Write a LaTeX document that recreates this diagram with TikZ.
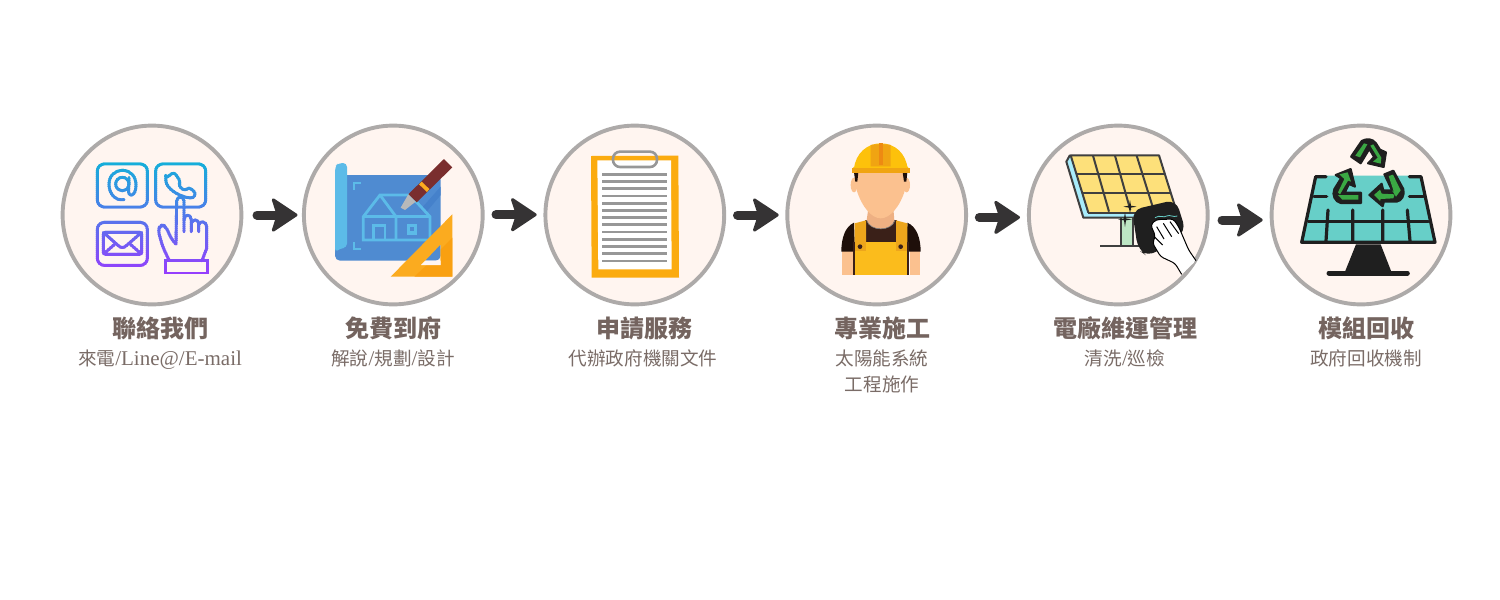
\documentclass[tikz,border=0pt]{standalone}
\usepackage{fontspec}
\usetikzlibrary{arrows.meta}
\setmainfont{Liberation Serif}
\newfontfamily\cjk{Noto Sans CJK TC}
\definecolor{ringc}{HTML}{ADAAA9}
\definecolor{discc}{HTML}{FFF5F0}
\definecolor{titlec}{HTML}{74645F}
\definecolor{subc}{HTML}{7A6C67}
\definecolor{arrowc}{HTML}{353334}
\definecolor{icontop}{HTML}{12B0D9}
\definecolor{iconbot}{HTML}{9C38FF}
\definecolor{bpblue}{HTML}{4F8BD1}
\definecolor{bplight}{HTML}{5CBBE8}
\definecolor{bpdark}{HTML}{4581CB}
\definecolor{orangec}{HTML}{FBAB1F}
\definecolor{orangedk}{HTML}{F9A011}
\definecolor{penred}{HTML}{7A2E2E}
\definecolor{boardc}{HTML}{FBAB0F}
\definecolor{linegray}{HTML}{979797}
\definecolor{skin}{HTML}{FBC18F}
\definecolor{skindk}{HTML}{EEB083}
\definecolor{helmet}{HTML}{FDC10B}
\definecolor{helmetdk}{HTML}{F0A412}
\definecolor{helmetor}{HTML}{EE8A12}
\definecolor{bib}{HTML}{FBBC1C}
\definecolor{bibdk}{HTML}{EDA61C}
\definecolor{shirt}{HTML}{1E0F0A}
\definecolor{shirtb}{HTML}{3A2018}
\definecolor{celly}{HTML}{FDE07A}
\definecolor{cellb}{HTML}{A8ECFB}
\definecolor{postg}{HTML}{BDE6C4}
\definecolor{ink}{HTML}{3F3F3F}
\definecolor{teal}{HTML}{67CFC8}
\definecolor{darkc}{HTML}{1F1F1F}
\definecolor{greenc}{HTML}{3AA843}
\tikzset{
  disc/.style={circle,draw=ringc,fill=discc,line width=3.9pt,minimum size=178.8pt,inner sep=0pt},
  titletext/.style={anchor=base,text=titlec,font=\cjk\bfseries\fontsize{24}{26}\selectfont,inner sep=0pt},
  subtext/.style={anchor=base,text=subc,font=\cjk\fontsize{18.6}{20}\selectfont,inner sep=0pt},
  flow/.style={draw=arrowc,line width=9pt,line cap=round,-{Stealth[length=28pt,width=37pt,inset=6pt,round,line width=3pt,fill=arrowc]}},
  zoomed/.style 2 args={shift={(#1,#2)},x=0.33333pt,y=-0.33333pt},
}
\newcommand{\serif}[1]{{\rmfamily\fontsize{21}{20}\selectfont #1}}
\newcommand{\contacticon}{%
  \begin{scope}[zoomed={50}{115},line width=2.9pt,line join=round,line cap=round]
    \draw[rounded corners=7pt] (142,147) rectangle (292,276);
    \draw[rounded corners=7pt] (317,147) rectangle (467,276);
    \draw[rounded corners=7pt] (142,322) rectangle (292,451);
    \draw (217,207) circle[radius=20];
    \draw (222,254) .. controls (195,258) and (177,235) .. (177,208) .. controls (177,182) and (195,166) .. (218,166)
      .. controls (242,166) and (258,185) .. (258,210) .. controls (258,228) and (252,240) .. (244,240)
      .. controls (235,240) and (235,230) .. (236,220) -- (237,188);
    \draw[rounded corners=3pt] (347,190) -- (372,171) -- (392,200) -- (385,212) -- (405,228) -- (416,216) -- (438,234) -- (430,250)
      .. controls (385,245) and (350,220) .. cycle;
    \draw[rounded corners=2pt] (160,352) rectangle (275,418);
    \draw (160,352) -- (205,392) .. controls (212,399) and (222,399) .. (229,392) -- (275,352);
    \draw (162,416) -- (196,386) (273,416) -- (239,386);
    \draw[rounded corners=4pt] (357,435) -- (338,395) -- (324,345) -- (332,330) -- (346,332) -- (366,375) -- (378,387);
    \draw (378,387) -- (380,258) .. controls (380,243) and (402,243) .. (402,258) -- (402,350);
    \draw (402,315) .. controls (402,296) and (424,296) .. (424,315) -- (424,350);
    \draw (424,325) .. controls (426,312) and (446,312) .. (446,325) -- (446,350);
    \draw (446,330) .. controls (448,316) and (470,318) .. (470,335) -- (470,400) -- (456,437);
    \draw[line cap=butt,line join=miter] (347,437) rectangle (472,474);
  \end{scope}}
\begin{document}
\begin{tikzpicture}[x=1pt,y=-1pt]
\useasboundingbox (0,0) rectangle (1500,600);
\fill[white] (0,0) rectangle (1500,600);
% discs
\node[disc] (c1) at (152,215) {};
\node[disc] (c2) at (393.3,215) {};
\node[disc] (c3) at (634.8,215) {};
\node[disc] (c4) at (876.7,215) {};
\node[disc] (c5) at (1118.3,215) {};
\node[disc] (c6) at (1361,215) {};
% arrows
\coordinate (a1s) at (257,215);   \coordinate (a1e) at (297.5,215);
\coordinate (a2s) at (496,214.7); \coordinate (a2e) at (536.7,214.7);
\coordinate (a3s) at (737.5,215); \coordinate (a3e) at (778.7,215);
\coordinate (a4s) at (979.3,217.4); \coordinate (a4e) at (1020,217.4);
\coordinate (a5s) at (1222,220);  \coordinate (a5e) at (1262.7,220);
\draw[flow] (a1s) -- (a1e);
\draw[flow] (a2s) -- (a2e);
\draw[flow] (a3s) -- (a3e);
\draw[flow] (a4s) -- (a4e);
\draw[flow] (a5s) -- (a5e);
% icon 1: gradient via strips
\foreach \s in {0,...,59}{
  \pgfmathsetmacro{\p}{100-\s*100/59}
  \pgfmathsetmacro{\yy}{160+2*\s}
  \begin{scope}
    \clip (80,\yy) rectangle (220,\yy+2.4);
    \colorlet{stripc}{icontop!\p!iconbot}
    \begin{scope}[draw=stripc]
      \contacticon
    \end{scope}
  \end{scope}
}
% icon 2: blueprint
\begin{scope}[zoomed={295}{115}]
  \fill[bpblue,rounded corners=5pt] (125,180) -- (437,180) -- (437,437) -- (120,437) -- (120,300) -- cycle;
  \fill[bplight,rounded corners=4pt] (120,400) -- (120,155) -- (130,144) -- (156,144) -- (156,398) -- (135,400) -- (120,412) -- cycle;
  \fill[bpdark] (375,285) -- (437,215) -- (437,240) -- (395,290) -- cycle;
  \begin{scope}[draw=bplight,line width=2.8pt,line join=miter]
    \draw (197,204) -- (177,204) -- (177,225);
    \draw (177,382) -- (177,402) -- (197,402);
    \draw (205,305) -- (255,240) -- (345,240) -- (405,305) -- (405,375) -- (205,375) -- cycle;
    \draw (205,305) -- (405,305);
    \draw (255,240) -- (303,305) -- (303,375);
    \draw (235,375) -- (235,332) -- (270,332) -- (270,375);
    \draw[line width=3.4pt] (340,332) rectangle (362,354);
  \end{scope}
  \fill[penred] (447,132) -- (472,157) -- (365,262) -- (340,238) -- cycle;
  \fill[orangec] (380,200) -- (403,222) -- (396,231) -- (372,208) -- cycle;
  \fill[gray!55] (340,238) -- (362,260) -- (330,285) -- (317,278) -- cycle;
  \fill[orangec,even odd rule] (472,298) -- (472,485) -- (287,485) -- cycle (437,388) -- (437,450) -- (378,450) -- cycle;
  \fill[orangedk] (472,368) -- (472,485) -- (358,485) -- (395,450) -- (437,450) -- (437,403) -- cycle;
  \fill[discc] (395,437) -- (437,437) -- (437,450) -- (378,450) -- (391,437) -- cycle;
\end{scope}
% icon 3: clipboard
\begin{scope}[zoomed={540}{115}]
  \fill[boardc] (153,123) -- (415,122) -- (417,488) -- (155,488) -- cycle;
  \fill[white] (172,136) -- (393,136) -- (395,463) -- (175,463) -- cycle;
  \foreach \ly in {178,200,221,243,265,286,308,329,351,373,394,416,438}
    \draw[linegray,line width=2.9pt] (187,\ly) -- (380,\ly);
  \draw[linegray,line width=2.6pt,rounded corners=7pt] (219,110) rectangle (351,156);
\end{scope}
% icon 4: worker
\begin{scope}[zoomed={780}{115}]
  \fill[skin] (186,405) rectangle (220,480);
  \fill[skin] (390,405) rectangle (420,480);
  \fill[shirt] (222,323) .. controls (195,335) and (184,370) .. (184,410) -- (225,410) -- cycle;
  \fill[shirt] (382,323) .. controls (410,335) and (422,370) .. (422,410) -- (380,410) -- cycle;
  \fill[shirtb] (256,315) rectangle (350,385);
  \fill[skindk] (265,280) -- (340,280) -- (343,316) .. controls (335,350) and (270,350) .. (260,316) -- cycle;
  \draw[gray,line width=.6pt] (260,316) .. controls (270,350) and (335,350) .. (345,316);
  \fill[bibdk] (224,325) -- (258,316) -- (258,382) -- (224,382) -- cycle;
  \fill[bibdk] (348,316) -- (382,325) -- (382,382) -- (348,382) -- cycle;
  \fill[bib] (224,380) rectangle (384,480);
  \fill[bibdk] (224,380) rectangle (258,408);
  \fill[bibdk] (348,380) rectangle (384,408);
  \fill[shirtb] (240,395) circle[radius=7];
  \fill[shirtb] (362,395) circle[radius=7];
  \draw[shirtb,line width=1.7pt] (221.5,380) -- (221.5,480);
  \draw[shirtb,line width=1.7pt] (385,380) -- (385,480);
  \fill[skin] (222,210) ellipse[x radius=10,y radius=22];
  \fill[skin] (380,210) ellipse[x radius=10,y radius=22];
  \fill[skin] (230,170) -- (374,170) -- (375,225) .. controls (360,275) and (330,310) .. (302,310) .. controls (275,310) and (245,275) .. (230,225) -- cycle;
  \fill[shirt] (222,172) -- (235,172) -- (232,200) -- (226,200) -- cycle;
  \fill[shirt] (368,172) -- (382,172) -- (379,200) -- (372,200) -- cycle;
  \fill[helmet] (222,162) .. controls (226,115) and (262,85) .. (302,85) .. controls (345,85) and (378,115) .. (383,162) -- cycle;
  \fill[helmetdk] (272,90) .. controls (282,87) and (322,87) .. (332,90) -- (332,155) -- (272,155) -- cycle;
  \fill[helmetor] (296,85) -- (308,85) -- (308,150) -- (296,150) -- cycle;
  \fill[helmet] (222,155) -- (383,155) -- (387,162) -- (217,162) -- cycle;
  \fill[helmetdk] (216,160) -- (389,160) -- (389,175) -- (216,175) -- cycle;
\end{scope}
% icon 5: panel and cleaning hand
\begin{scope}[zoomed={1020}{115},line join=round]
  \fill[cellb] (150,120) -- (139,140) -- (190,308) -- (350,308) -- (350,290) -- (205,293) -- cycle;
  \fill[celly] (152,121) -- (417,121) -- (470,290) -- (205,293) -- cycle;
  \begin{scope}[draw=ink,line width=2pt]
    \draw (205,293) -- (152,121) -- (417,121) -- (470,290);
    \draw (150,120) -- (139,140) -- (190,308) -- (350,308);
    \draw (205,293) -- (350,293);
    \draw (170,178) -- (436,178);
    \draw (187,233) -- (452,233);
    \draw (219,122) -- (267,290);
    \draw (285,122) -- (331,285);
    \draw (350,122) -- (397,272);
  \end{scope}
  \fill[postg] (304,310) rectangle (340,390);
  \draw[ink,line width=2pt] (304,310) -- (304,390) (340,310) -- (340,390);
  \draw[ink,line width=2pt] (240,393) -- (362,393);
  \fill[darkc] (330,255) -- (333,272) -- (350,275) -- (333,278) -- (330,295) -- (327,278) -- (310,275) -- (327,272) -- cycle;
  \fill[darkc] (315,292) -- (318,310) -- (336,313) -- (318,316) -- (315,336) -- (312,316) -- (294,313) -- (312,310) -- cycle;
  \fill[darkc,rounded corners=10pt] (336,285) -- (468,254) -- (498,350) -- (385,426) -- (354,404) -- cycle;
  \fill[white,rounded corners=3pt] (485,478) -- (465,445) -- (422,425) -- (398,385) -- (406,362) -- (392,330) -- (408,314) -- (460,312) -- (476,335) -- (506,405) -- (528,437) -- cycle;
  \draw[black,line width=1pt,rounded corners=3pt] (485,478) -- (465,445) -- (422,425) -- (398,385) -- (406,362) -- (392,330) -- (408,314) -- (460,312) -- (476,335) -- (506,405) -- (528,437);
  \draw[black,line width=1pt] (410,335) -- (432,372) (430,325) -- (455,365) (450,320) -- (476,356) (403,365) -- (428,390);
  \draw[teal,line width=.8pt] (405,308) .. controls (420,298) and (430,310) .. (440,303) .. controls (450,298) and (460,308) .. (472,303);
\end{scope}
% icon 6: recycled panel
\begin{scope}[zoomed={1250}{115},line join=round,line cap=round]
  \fill[teal] (197,182) -- (513,182) -- (555,382) -- (155,382) -- cycle;
  \begin{scope}[draw=darkc,line width=3.2pt]
    \draw (228,185) -- (197,185) -- (155,382) -- (555,382) -- (513,185) -- (478,185);
    \draw (192,245) -- (230,245) (478,245) -- (520,245);
    \draw (175,320) -- (535,320);
    \draw (234,285) -- (228,378) (308,285) -- (308,378) (398,285) -- (398,378) (472,285) -- (480,378);
  \end{scope}
  \fill[darkc] (318,388) -- (392,388) -- (424,470) -- (285,470) -- cycle;
  \draw[darkc,line width=5pt] (237,474) -- (472,474);
  \begin{scope}[draw=darkc,fill=darkc,line width=2pt]
    \filldraw (303,125) -- (335,78) .. controls (348,70) and (368,70) .. (378,85) -- (390,104) -- (408,112) -- (401,156) -- (354,145) -- (372,126) -- (358,102) -- (332,145) -- cycle;
    \filldraw (257,180) -- (302,162) -- (315,215) -- (297,207) -- (284,233) -- (333,233) -- (333,264) -- (272,264) .. controls (255,260) and (245,240) .. (253,222) -- (273,190) -- cycle;
    \filldraw (403,178) -- (430,167) -- (460,222) .. controls (465,240) and (455,258) .. (440,260) -- (402,260) -- (398,274) -- (358,240) -- (395,206) -- (400,226) -- (426,226) -- cycle;
  \end{scope}
  \fill[greenc] (316,122) -- (342,85) -- (352,88) -- (330,127) -- cycle;
  \fill[greenc] (361,92) -- (370,88) -- (394,128) -- (392,146) -- (369,140) -- (383,128) -- cycle;
  \fill[greenc] (268,178) -- (293,172) -- (303,200) -- (294,197) -- (270,238) -- (264,232) -- (283,192) -- cycle;
  \fill[greenc] (264,240) -- (325,240) -- (325,254) -- (277,254) -- cycle;
  \fill[greenc] (416,183) -- (429,179) -- (452,226) -- (438,245) -- (426,226) -- (432,232) -- cycle;
  \fill[greenc] (372,240) -- (390,224) -- (395,236) -- (434,238) -- (430,250) -- (392,252) -- (390,258) -- cycle;
\end{scope}
% labels
\node[titletext] (t1) at (160,337) {聯絡我們};
\node[subtext] (s1) at (160,365) {來電\serif{/Line@/E-mail}};
\node[titletext] (t2) at (393,337) {免費到府};
\node[subtext] (s2) at (393,365) {解說\serif{/}規劃\serif{/}設計};
\node[titletext] (t3) at (644,337) {申請服務};
\node[subtext] (s3) at (643,365) {代辦政府機關文件};
\node[titletext] (t4) at (882,337) {專業施工};
\node[subtext] (s4) at (882,365) {太陽能系統};
\node[subtext] (s4b) at (882,391) {工程施作};
\node[titletext] (t5) at (1125,337) {電廠維運管理};
\node[subtext] (s5) at (1125,365) {清洗\serif{/}巡檢};
\node[titletext] (t6) at (1366,337) {模組回收};
\node[subtext] (s6) at (1366,365) {政府回收機制};
\end{tikzpicture}
\end{document}
